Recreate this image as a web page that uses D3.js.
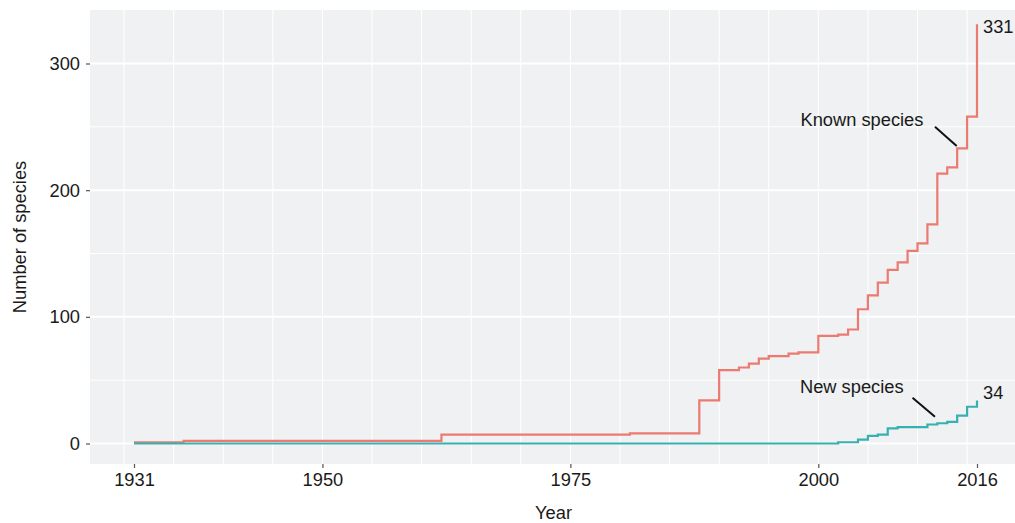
<!DOCTYPE html>
<html>
<head>
<meta charset="utf-8">
<script src="https://cdn.jsdelivr.net/npm/d3@7"></script>
<style>
  html, body { margin: 0; padding: 0; background: #fff; }
  svg { display: block; font-family: "Liberation Sans", Arial, Helvetica, sans-serif; }
</style>
</head>
<body>
<svg id="chart" width="1015" height="523"></svg>
<script>
// ----------------------------
// Data (cumulative counts, value holds from that year on)
// ----------------------------
const knownYears  = [1931, 1936, 1962, 1981, 1988, 1990, 1992, 1993, 1994, 1995, 1997, 1998, 2000, 2002, 2003,
                     2004, 2005, 2006, 2007, 2008, 2009, 2010, 2011, 2012, 2013, 2014, 2015, 2016];
const knownCounts = [1, 2, 7, 8, 34, 58, 60, 63, 67, 69, 71, 72, 85, 86, 90,
                     106, 117, 127, 137, 143, 152, 158, 173, 213, 218, 233, 258, 331];

const newYears  = [1931, 2002, 2004, 2005, 2006, 2007, 2008, 2011, 2012, 2013, 2014, 2015, 2016];
const newCounts = [0, 1, 3, 6, 7, 12, 13, 15, 16, 17, 22, 29, 34];

const xTicks = [1931, 1950, 1975, 2000, 2016];
const yTicks = [0, 100, 200, 300];
const yMinor = [50, 150, 250];
const xGrid = d3.range(1930, 2016, 5);

// ----------------------------
// Plotting
// ----------------------------
const svg = d3.select("#chart");
const panel = { left: 90, top: 10, right: 1015, bottom: 464 };

const xScale = d3.scaleLinear().domain([1931, 2016]).range([134, 977]);
const yScale = d3.scaleLinear().domain([0, 300]).range([443.5, 63.5]);

const colKnown = "#ec7a70";
const colNew = "#38b0b0";
const textCol = "#1a1a1a";
const fontSize = "18.3px";

// panel background
svg.append("rect")
    .attr("x", panel.left)
    .attr("y", panel.top)
    .attr("width", panel.right - panel.left)
    .attr("height", panel.bottom - panel.top)
    .attr("fill", "#eff1f2");

const grid = svg.append("g");
grid.selectAll("line.ymin").data(yMinor).join("line")
    .attr("x1", panel.left).attr("x2", panel.right)
    .attr("y1", d => yScale(d)).attr("y2", d => yScale(d))
    .attr("stroke", "#fff").attr("stroke-width", 1);
grid.selectAll("line.xg").data(xGrid).join("line")
    .attr("y1", panel.top).attr("y2", panel.bottom)
    .attr("x1", d => xScale(d)).attr("x2", d => xScale(d))
    .attr("stroke", "#fff").attr("stroke-width", 1.1);
grid.selectAll("line.ymaj").data(yTicks).join("line")
    .attr("x1", panel.left).attr("x2", panel.right)
    .attr("y1", d => yScale(d)).attr("y2", d => yScale(d))
    .attr("stroke", "#fff").attr("stroke-width", 2);

// step lines
const stepLine = d3.line()
    .x(d => xScale(d[0]))
    .y(d => yScale(d[1]))
    .curve(d3.curveStepAfter);

const knownData = knownYears.map((y, i) => [y, knownCounts[i]]);
const newData = newYears.map((y, i) => [y, newCounts[i]]);

svg.append("path")
    .datum(knownData)
    .attr("fill", "none")
    .attr("stroke", colKnown)
    .attr("stroke-width", 2.2)
    .attr("d", stepLine);

svg.append("path")
    .datum(newData)
    .attr("fill", "none")
    .attr("stroke", colNew)
    .attr("stroke-width", 2.2)
    .attr("d", stepLine);

// Axes
const xAxis = svg.append("g")
    .attr("transform", `translate(0,${panel.bottom})`)
    .call(d3.axisBottom(xScale).tickValues(xTicks).tickFormat(d3.format("d")).tickSize(4).tickPadding(5));
const yAxis = svg.append("g")
    .attr("transform", `translate(${panel.left},0)`)
    .call(d3.axisLeft(yScale).tickValues(yTicks).tickSize(4).tickPadding(6));

[xAxis, yAxis].forEach(ax => {
  ax.select(".domain").remove();
  ax.selectAll(".tick line").attr("stroke", "#555").attr("stroke-width", 1.2);
  ax.selectAll(".tick text")
      .attr("fill", textCol)
      .style("font-size", fontSize)
      .style("font-family", "'Liberation Sans', Arial, sans-serif");
});

// axis titles
svg.append("text")
    .attr("x", (panel.left + panel.right) / 2 + 1)
    .attr("y", 519)
    .attr("text-anchor", "middle")
    .attr("fill", textCol)
    .style("font-size", fontSize)
    .text("Year");

svg.append("text")
    .attr("transform", `translate(26,${(panel.top + panel.bottom) / 2}) rotate(-90)`)
    .attr("text-anchor", "middle")
    .attr("fill", textCol)
    .style("font-size", fontSize)
    .text("Number of species");

// end labels
svg.append("text")
    .attr("x", xScale(2016) + 6)
    .attr("y", yScale(knownCounts[knownCounts.length - 1]) + 9)
    .attr("fill", textCol)
    .style("font-size", fontSize)
    .text(knownCounts[knownCounts.length - 1]);

svg.append("text")
    .attr("x", xScale(2016) + 6)
    .attr("y", yScale(newCounts[newCounts.length - 1]) - 1)
    .attr("fill", textCol)
    .style("font-size", fontSize)
    .text(newCounts[newCounts.length - 1]);

// annotations
const notes = [
  { label: "Known species", tx: 1998.2, ty: 250.7, x1: 2011.76, y1: 250.1, x2: 2013.95, y2: 234.9 },
  { label: "New species",   tx: 1998.15, ty: 39.9, x1: 2009.5, y1: 36.2, x2: 2011.76, y2: 21.2 }
];
notes.forEach(n => {
  svg.append("text")
      .attr("x", xScale(n.tx))
      .attr("y", yScale(n.ty))
      .attr("fill", textCol)
      .style("font-size", fontSize)
      .text(n.label);
  svg.append("line")
      .attr("x1", xScale(n.x1)).attr("y1", yScale(n.y1))
      .attr("x2", xScale(n.x2)).attr("y2", yScale(n.y2))
      .attr("stroke", "#111")
      .attr("stroke-width", 2);
});
</script>
</body>
</html>
